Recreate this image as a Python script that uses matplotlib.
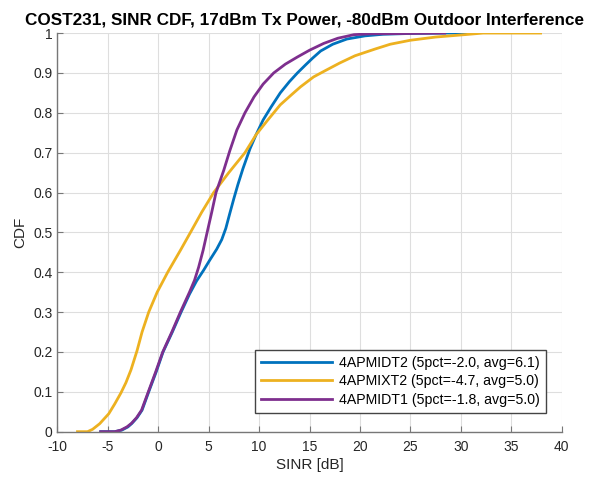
# SINR CDF comparison, COST231 model
import matplotlib.pyplot as plt

plt.rcParams['font.family'] = ['Liberation Sans', 'DejaVu Sans']
plt.rcParams['axes.unicode_minus'] = False

# curves (SINR in dB, CDF)
sinr_midt2 = [-5.7, -4.3, -3.6, -3.0, -2.6, -2.1, -1.6, -0.94, -0.2, 0.48, 1.4, 2.27,
              3.1, 3.8, 4.5, 5.1, 5.8, 6.3, 6.7, 7.1, 7.5, 7.9, 8.4, 9.1, 9.7, 10.4, 11.2,
              12.1, 13.0, 13.8, 14.6, 15.3, 16.1, 17.3, 18.7, 20.5, 22.3, 25.0, 28.6, 31.0]
cdf_midt2 = [0.0, 0.0, 0.004, 0.012, 0.021, 0.035, 0.054, 0.1, 0.15, 0.2, 0.25, 0.3,
             0.345, 0.378, 0.405, 0.43, 0.458, 0.482, 0.51, 0.548, 0.585, 0.62, 0.66,
             0.71, 0.745, 0.782, 0.815, 0.85, 0.878, 0.9, 0.92, 0.937, 0.955, 0.972,
             0.985, 0.993, 0.997, 0.999, 1.0, 1.0]

sinr_mixt2 = [-8.0, -7.0, -6.5, -5.8, -4.9, -4.3, -3.7, -3.2, -2.7, -2.1, -1.6, -0.94,
              -0.1, 0.94, 2.2, 3.2, 4.3, 5.5, 7.0, 8.6, 9.7, 10.8, 12.1, 13.2, 14.1, 15.4,
              16.5, 18.0, 19.5, 21.5, 23.0, 25.0, 27.5, 29.9, 32.2, 37.9]
cdf_mixt2 = [0.0, 0.0, 0.006, 0.02, 0.045, 0.07, 0.097, 0.123, 0.155, 0.203, 0.25, 0.3,
             0.35, 0.4, 0.455, 0.5, 0.55, 0.6, 0.65, 0.7, 0.745, 0.78, 0.82, 0.845, 0.865,
             0.89, 0.905, 0.925, 0.943, 0.96, 0.972, 0.982, 0.99, 0.995, 1.0, 1.0]

sinr_midt1 = [-5.7, -4.3, -3.7, -3.1, -2.65, -2.15, -1.65, -0.98, -0.25, 0.45, 1.35, 2.2,
              3.1, 3.6, 4.0, 4.45, 4.85, 5.3, 5.73, 6.5, 7.1, 7.8, 8.6, 9.5, 10.4, 11.45,
              12.6, 13.8, 15.0, 16.4, 17.8, 19.4, 21.0, 25.0, 28.4]
cdf_midt1 = [0.0, 0.0, 0.004, 0.012, 0.021, 0.035, 0.054, 0.1, 0.15, 0.2, 0.25, 0.3,
             0.35, 0.38, 0.412, 0.455, 0.5, 0.55, 0.6, 0.656, 0.705, 0.757, 0.8, 0.84,
             0.872, 0.9, 0.922, 0.94, 0.957, 0.974, 0.987, 0.996, 0.998, 0.999, 1.0]

labels = ['4APMIDT2 (5pct=-2.0, avg=6.1)',
          '4APMIXT2 (5pct=-4.7, avg=5.0)',
          '4APMIDT1 (5pct=-1.8, avg=5.0)']
colors = ['#0072BD', '#EDB120', '#7E2F8E']

fig = plt.figure(figsize=(5.97, 4.82), dpi=100)
ax = fig.add_axes([0.096, 0.1044, 0.845, 0.827])

ax.plot(sinr_midt2, cdf_midt2, color=colors[0], lw=2, label=labels[0])
ax.plot(sinr_mixt2, cdf_mixt2, color=colors[1], lw=2, label=labels[1])
ax.plot(sinr_midt1, cdf_midt1, color=colors[2], lw=2, label=labels[2])

ax.set_xlim(-10, 40)
ax.set_ylim(0, 1)
ax.set_xticks(range(-10, 41, 5))
ax.set_yticks([i / 10 for i in range(11)])
ax.set_yticklabels(['0'] + [f'0.{i}' for i in range(1, 10)] + ['1'])

ax.grid(True, color='#dedede', lw=0.8)
ax.set_axisbelow(True)
for side in ['top', 'right']:
    ax.spines[side].set_visible(False)
for side in ['left', 'bottom']:
    ax.spines[side].set_color('#777777')
    ax.spines[side].set_linewidth(1.0)
ax.tick_params(direction='in', length=4, width=0.8, color='#777777',
               labelsize=10, labelcolor='#262626')
ax.tick_params(axis='x', pad=6)

ax.set_xlabel('SINR [dB]', fontsize=11, color='#262626', labelpad=3)
ax.set_ylabel('CDF', fontsize=11, color='#262626', labelpad=4)
ax.set_title('COST231, SINR CDF, 17dBm Tx Power, -80dBm Outdoor Interference',
             fontsize=12.3, fontweight='bold', pad=6, x=0.49)

leg = ax.legend(loc='lower right', bbox_to_anchor=(0.969, 0.047), borderaxespad=0,
                fontsize=10.2, fancybox=False, framealpha=1, edgecolor='#444444',
                handlelength=5.0, handletextpad=0.5, labelspacing=0.3,
                borderpad=0.45)
leg.get_frame().set_linewidth(1.0)

plt.savefig('out.png', dpi=100, facecolor='white')
plt.close()
